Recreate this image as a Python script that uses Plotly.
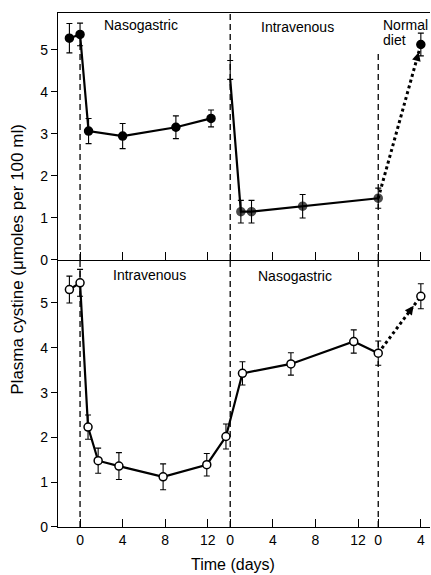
import numpy as np
import plotly.graph_objects as go

# ---------------- data ----------------
# start of each dietary phase on the shared time axis (days)
PHASE_START = [0.0, 14.1, 28.0]
PHASE_TICKS = [[0, 4, 8, 12], [0, 4, 8, 12], [0, 4]]

# Upper panel (filled circles): Nasogastric -> Intravenous -> Normal diet
top_p1_days = [-1.0, 0.0, 0.8, 4.0, 9.0, 12.3]
top_p1_vals = [5.28, 5.37, 3.07, 2.95, 3.16, 3.37]
top_p1_err = [0.35, 0.27, 0.30, 0.30, 0.27, 0.20]

top_p2_days = [0.0, 1.0, 2.0, 6.8, 13.9]
top_p2_vals = [4.30, 1.15, 1.15, 1.28, 1.47]
top_p2_err_plus = [0.45, 0.27, 0.27, 0.28, 0.24]
top_p2_err_minus = [0.0, 0.27, 0.27, 0.28, 0.24]

top_p3_days = [4.0]
top_p3_vals = [5.13]
top_p3_err = [0.27]

# Lower panel (open circles): Intravenous -> Nasogastric -> Normal diet
bot_p1_days = [-1.0, 0.0, 0.75, 1.7, 3.65, 7.8, 11.9, 13.7]
bot_p1_vals = [5.30, 5.45, 2.23, 1.48, 1.36, 1.12, 1.39, 2.02]
bot_p1_err = [0.30, 0.30, 0.27, 0.28, 0.30, 0.29, 0.25, 0.28]

bot_p2_days = [1.15, 5.7, 11.6, 13.9]
bot_p2_vals = [3.43, 3.64, 4.14, 3.88]
bot_p2_err = [0.26, 0.25, 0.26, 0.27]

bot_p3_days = [4.0]
bot_p3_vals = [5.15]
bot_p3_err = [0.28]

TOP_LABELS = [("Nasogastric", 0, 5.7, 5.6), ("Intravenous", 1, 6.3, 5.55)]
BOT_LABELS = [("Intravenous", 0, 6.5, 5.63), ("Nasogastric", 1, 6.1, 5.6)]

# ---------------- layout constants ----------------
W, H = 431, 575
ML, MR, MT, MB = 58, 1, 13, 48
XR = [-2.07, 32.86]
SPLIT = 0.5195
YR_TOP = [0, 5.88]
YR_BOT = [0, 5.96]
FONT = "Liberation Sans"


def gx(phase, days):
    return [PHASE_START[phase] + d for d in days]


fig = go.Figure()

line_style = dict(color="black", width=2.2)
err_style = dict(color="black", thickness=1.1, width=3)


def add_series(x, y, err_p, err_m, yaxis, filled, sizes=None):
    fig.add_trace(go.Scatter(
        x=x, y=y, xaxis="x2" if yaxis == "y2" else "x", yaxis=yaxis,
        mode="lines+markers", line=line_style,
        marker=dict(size=sizes if sizes else 8,
                    color="black" if filled else "white",
                    line=dict(color="black", width=1.5)),
        error_y=dict(type="data", symmetric=False, array=err_p,
                     arrayminus=err_m, **err_style),
        showlegend=False, hoverinfo="skip"))


def add_dotted(x0, y0, x1, y1, yaxis):
    fig.add_trace(go.Scatter(
        x=[x0, x1], y=[y0, y1], xaxis="x2" if yaxis == "y2" else "x",
        yaxis=yaxis, mode="lines",
        line=dict(color="black", width=3, dash="dot"),
        showlegend=False, hoverinfo="skip"))


# ----- dotted "normal diet" lines (drawn first, under markers)
add_dotted(gx(1, top_p2_days)[-1], top_p2_vals[-1],
           gx(2, top_p3_days)[0], top_p3_vals[0], "y2")
add_dotted(gx(1, bot_p2_days)[-1], bot_p2_vals[-1],
           gx(2, bot_p3_days)[0], bot_p3_vals[0], "y")

# ----- upper panel
add_series(gx(0, top_p1_days), top_p1_vals, top_p1_err, top_p1_err, "y2", True)
add_series(gx(1, top_p2_days), top_p2_vals, top_p2_err_plus, top_p2_err_minus,
           "y2", True, sizes=[0] + [8] * (len(top_p2_days) - 1))
add_series(gx(2, top_p3_days), top_p3_vals, top_p3_err, top_p3_err, "y2", True)

# ----- lower panel (phase 1 and 2 joined)
add_series(gx(0, bot_p1_days) + gx(1, bot_p2_days), bot_p1_vals + bot_p2_vals,
           bot_p1_err + bot_p2_err, bot_p1_err + bot_p2_err, "y", False)
add_series(gx(2, bot_p3_days), bot_p3_vals, bot_p3_err, bot_p3_err, "y", False)

# ----- arrow heads on dotted lines
pw = W - ML - MR
ph = H - MT - MB
px_day = pw / (XR[1] - XR[0])
ppu_top = ph * (1 - SPLIT) / (YR_TOP[1] - YR_TOP[0])
ppu_bot = ph * SPLIT / (YR_BOT[1] - YR_BOT[0])


def arrowhead(x0, y0, x1, y1, ppu, yref, xref, standoff):
    dx = (x1 - x0) * px_day
    dy = -(y1 - y0) * ppu
    n = np.hypot(dx, dy)
    L = standoff + 9
    fig.add_annotation(x=x1, y=y1, xref=xref, yref=yref,
                       ax=-dx / n * L, ay=-dy / n * L, text="",
                       showarrow=True, arrowhead=2, arrowsize=1.1,
                       arrowwidth=1.6, arrowcolor="black", standoff=standoff)


arrowhead(gx(1, top_p2_days)[-1], top_p2_vals[-1], gx(2, top_p3_days)[0],
          top_p3_vals[0], ppu_top, "y2", "x2", 8)
arrowhead(gx(1, bot_p2_days)[-1], bot_p2_vals[-1], gx(2, bot_p3_days)[0],
          bot_p3_vals[0], ppu_bot, "y", "x", 12)

# ----- phase boundary dashed lines
dash = dict(color="black", width=1.3, dash="6px,4px")
fig.add_shape(type="line", xref="x2", yref="y2", x0=PHASE_START[0],
              x1=PHASE_START[0], y0=0, y1=5.15, line=dash, layer="below")
fig.add_shape(type="line", xref="x2", yref="y2", x0=PHASE_START[1],
              x1=PHASE_START[1], y0=0, y1=YR_TOP[1], line=dash, layer="below")
fig.add_shape(type="line", xref="x2", yref="y2", x0=PHASE_START[2],
              x1=PHASE_START[2], y0=0, y1=5.0, line=dash, layer="below")
for ps in PHASE_START:
    fig.add_shape(type="line", xref="x", yref="y", x0=ps, x1=ps,
                  y0=0, y1=YR_BOT[1], line=dash, layer="below")

# ----- phase labels
tfont = dict(family=FONT, size=14, color="black")
for txt, ph_i, d, v in TOP_LABELS:
    fig.add_annotation(x=PHASE_START[ph_i] + d, y=v, xref="x2", yref="y2",
                       text=txt, showarrow=False, font=tfont)
for txt, ph_i, d, v in BOT_LABELS:
    fig.add_annotation(x=PHASE_START[ph_i] + d, y=v, xref="x", yref="y",
                       text=txt, showarrow=False, font=tfont)
fig.add_annotation(x=PHASE_START[2] + 0.25, y=5.6, xref="x2", yref="y2",
                   text="Normal", xanchor="left", showarrow=False, font=tfont)
fig.add_annotation(x=PHASE_START[2] + 0.25, y=5.24, xref="x2", yref="y2",
                   text="diet", xanchor="left", showarrow=False, font=tfont)

# ----- axis titles
fig.add_annotation(x=(18 - ML) / pw, y=0.52, xref="paper", yref="paper",
                   xanchor="center", yanchor="middle",
                   text="Plasma cystine (μmoles per 100 ml)", textangle=-90,
                   showarrow=False, font=dict(family=FONT, size=17, color="black"))
fig.add_annotation(x=(233 - ML) / pw, y=(H - MB - 564) / ph,
                   xref="paper", yref="paper", xanchor="center", yanchor="middle",
                   text="Time (days)",
                   showarrow=False, font=dict(family=FONT, size=16, color="black"))

tickvals, ticktext = [], []
for ps, tks in zip(PHASE_START, PHASE_TICKS):
    for t in tks:
        tickvals.append(ps + t)
        ticktext.append(str(t))

axis_common = dict(showgrid=False, zeroline=False, showline=True,
                   linecolor="black", linewidth=1.3, tickcolor="black",
                   tickwidth=1.3, tickfont=dict(family=FONT, size=14, color="black"))

fig.update_layout(
    width=W, height=H, margin=dict(l=ML, r=MR, t=MT, b=MB),
    paper_bgcolor="white", plot_bgcolor="white",
    font=dict(family=FONT, color="black"),
    xaxis=dict(domain=[0, 1], range=XR, anchor="y", tickmode="array",
               tickvals=tickvals, ticktext=ticktext, ticks="inside",
               ticklen=8, **axis_common),
    xaxis2=dict(domain=[0, 1], range=XR, anchor="y2", matches="x",
                tickmode="array", tickvals=tickvals, showticklabels=False,
                ticks="inside", ticklen=8, mirror=True, **axis_common),
    yaxis=dict(domain=[0, SPLIT], range=YR_BOT, tickvals=[0, 1, 2, 3, 4, 5],
               ticks="outside", ticklen=6, anchor="x", **axis_common),
    yaxis2=dict(domain=[SPLIT, 1], range=YR_TOP, tickvals=[0, 1, 2, 3, 4, 5],
                ticks="outside", ticklen=6, anchor="x2", **axis_common),
)

fig.write_html(
    "out.html",
    config={"displayModeBar": False},
    post_script="document.body.style.margin='0';document.body.style.overflow='hidden';",
)
